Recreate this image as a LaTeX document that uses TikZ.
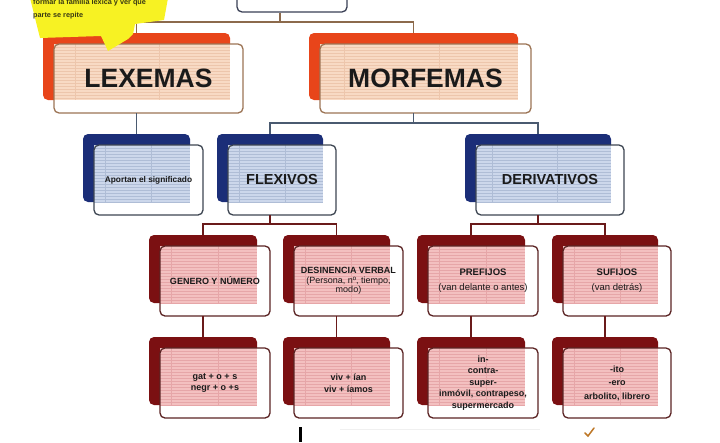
\documentclass[tikz,border=0pt]{standalone}
\usepackage{fontspec}
\setmainfont{Liberation Sans}
\definecolor{obk}{HTML}{E8451A}
\definecolor{ofl}{HTML}{F8DAC4}
\definecolor{oln}{HTML}{EDC6AC}
\definecolor{obd}{HTML}{9C7455}
\definecolor{bbk}{HTML}{1B2E78}
\definecolor{bfl}{HTML}{CCD7EB}
\definecolor{bln}{HTML}{AFBDD6}
\definecolor{bbd}{HTML}{3E4652}
\definecolor{rbk}{HTML}{7B1012}
\definecolor{rfl}{HTML}{F3C0C0}
\definecolor{rln}{HTML}{E6A6A8}
\definecolor{rbd}{HTML}{5B2424}
\definecolor{cbrown}{HTML}{8C6A4C}
\definecolor{cblue}{HTML}{4A5A70}
\definecolor{cred}{HTML}{6A1A1A}
\definecolor{ylw}{HTML}{F7F223}
\definecolor{ytx}{HTML}{3A3A12}
\definecolor{txt}{HTML}{1A1A1A}
\definecolor{topbd}{HTML}{3A4055}
\tikzset{
  cardbase/.style={inner sep=0pt, outer sep=0pt, rectangle, rounded corners=5pt},
  oback/.style={cardbase, fill=obk},
  bback/.style={cardbase, fill=bbk},
  rback/.style={cardbase, fill=rbk},
  ofront/.style={cardbase, fill=white},
  bfront/.style={cardbase, fill=white},
  rfront/.style={cardbase, fill=white},
  ofill/.style={fill=ofl},
  bfill/.style={fill=bfl},
  rfill/.style={fill=rfl},
  oline/.style={draw=oln, line width=0.35pt},
  bline/.style={draw=bln, line width=0.35pt},
  rline/.style={draw=rln, line width=0.35pt},
  oborder/.style={draw=obd, line width=1.3pt, rounded corners=5pt},
  bborder/.style={draw=bbd, line width=1.3pt, rounded corners=5pt},
  rborder/.style={draw=rbd, line width=1.3pt, rounded corners=5pt},
  otext/.style={text=txt, align=center, inner sep=0pt},
  btext/.style={text=txt, align=center, inner sep=0pt},
  rtext/.style={text=txt, align=center, inner sep=0pt},
  conn/.style={line width=1.2pt},
  brownconn/.style={conn, draw=cbrown},
  blueconn/.style={conn, draw=cblue},
  redconn/.style={conn, draw=cred},
  bigfont/.style={font=\fontsize{26.5}{30}\selectfont\bfseries},
  midfont/.style={font=\fontsize{14.5}{17}\selectfont\bfseries},
  smallbold/.style={font=\fontsize{9}{11.5}\selectfont\bfseries},
  apfont/.style={font=\fontsize{8.3}{10}\selectfont\bfseries},
  desfont/.style={font=\fontsize{9}{9.5}\selectfont},
  affont/.style={font=\fontsize{9.5}{11}\selectfont},
  sexfont/.style={font=\fontsize{9}{13.5}\selectfont\bfseries},
}
\newcommand{\card}[8]{%
  \pgfmathsetmacro{\bxm}{(#3+#5)/2}\pgfmathsetmacro{\bym}{(#4+#6)/2}%
  \pgfmathsetmacro{\bw}{#5-#3}\pgfmathsetmacro{\bh}{#6-#4}%
  \pgfmathsetmacro{\fxa}{#3+11}\pgfmathsetmacro{\fya}{#4+11}%
  \pgfmathsetmacro{\fxb}{#5+13}\pgfmathsetmacro{\fyb}{#6+13}%
  \pgfmathsetmacro{\fxm}{(\fxa+\fxb)/2}\pgfmathsetmacro{\fym}{(\fya+\fyb)/2}%
  \pgfmathsetmacro{\fw}{\fxb-\fxa}\pgfmathsetmacro{\fh}{\fyb-\fya}%
  \node[#2back, minimum width=\bw pt, minimum height=\bh pt] (#1-b) at (\bxm,\bym) {};
  \node[#2front, minimum width=\fw pt, minimum height=\fh pt] (#1-f) at (\fxm,\fym) {};
  \fill[#2fill] (\fxa,\fya) rectangle (#5,#6);
  \pgfmathtruncatemacro{\nl}{(#6-\fya)/3}%
  \foreach \k in {1,...,\nl}{\draw[#2line] (\fxa,{\fya+\k*3}) -- (#5,{\fya+\k*3});}
  \pgfmathsetmacro{\va}{\fxa+0.12*(#5-\fxa)}\pgfmathsetmacro{\vb}{\fxa+0.6*(#5-\fxa)}%
  \draw[#2line] (\va,\fya) -- (\va,#6);
  \draw[#2line] (\vb,\fya) -- (\vb,#6);
  \draw[#2border] (#1-f.north west) rectangle (#1-f.south east);
  \node[#2text, #7] (#1) at (#1-f.center) {#8};
}
\begin{document}
\begin{tikzpicture}[x=1pt,y=-1pt]
\useasboundingbox (0,0) rectangle (720,442);
\fill[white] (0,0) rectangle (720,442);
% top box (mostly cut off)
\node[draw=topbd, line width=1.3pt, fill=white, rounded corners=5pt, minimum width=110pt, minimum height=30pt, inner sep=0pt] (top) at (292,-3) {};
% cards
\card{lex}{o}{43}{33}{230}{100}{bigfont}{LEXEMAS}
\card{mor}{o}{309}{33}{518}{100}{bigfont}{MORFEMAS}
\card{ap}{b}{83}{134}{190}{202}{apfont}{Aportan el significado}
\card{flex}{b}{217}{134}{323}{202}{midfont}{FLEXIVOS}
\card{der}{b}{465}{134}{611}{202}{midfont}{DERIVATIVOS}
\card{gen}{r}{149}{235}{257}{303}{smallbold}{GENERO Y NÚMERO}
\card{des}{r}{283}{235}{390}{303}{desfont}{\textbf{DESINENCIA VERBAL}\\(Persona, nº, tiempo,\\modo)}
\card{pre}{r}{417}{235}{525}{303}{affont}{\textbf{PREFIJOS}\\[4pt](van delante o antes)}
\card{suf}{r}{552}{235}{658}{303}{affont}{\textbf{SUFIJOS}\\[4pt](van detrás)}
\card{gex}{r}{149}{337}{257}{405}{smallbold}{gat + o + s\\negr + o +s}
\card{dex}{r}{283}{337}{390}{405}{smallbold}{viv + ían\\viv + íamos}
\card{pex}{r}{417}{337}{525}{405}{smallbold}{in-\\contra-\\super-\\inmóvil, contrapeso,\\supermercado}
\card{sex}{r}{552}{337}{658}{405}{sexfont}{-ito\\-ero\\arbolito, librero}
% connectors
\coordinate (tj) at (280,22);
\draw[brownconn] (tj |- top.south) -- (tj);
\draw[brownconn] (lex-b.north) |- (tj) -| (mor-b.north);
\draw[blueconn] (lex-b.center |- lex-f.south) -- (ap-b.north);
\coordinate (mj) at (413.5,123);
\draw[blueconn] (mor-b.center |- mor-f.south) -- (mj);
\draw[blueconn] (flex-b.north) |- (mj) -| (der-b.north);
\coordinate (fj) at (270,224);
\draw[redconn] (flex-b.center |- flex-f.south) -- (fj);
\draw[redconn] (gen-b.north) |- (fj) -| (des-b.north);
\coordinate (dj) at (538,224);
\draw[redconn] (der-b.center |- der-f.south) -- (dj);
\draw[redconn] (pre-b.north) |- (dj) -| (suf-b.north);
\draw[redconn] (gen-b.center |- gen-f.south) -- (gex-b.north);
\draw[redconn] (des-b.center |- des-f.south) -- (dex-b.north);
\draw[redconn] (pre-b.center |- pre-f.south) -- (pex-b.north);
\draw[redconn] (suf-b.center |- suf-f.south) -- (sex-b.north);
% yellow callout
\fill[ylw] (30,-2) -- (168,-2) -- (164,20) -- (135,24) -- (133,34) -- (128,39) -- (108,51) -- (101,36) -- (40,38) -- cycle;
\node[anchor=west, text=ytx, inner sep=0pt, font=\fontsize{7.3}{8}\selectfont\bfseries] (y1) at (33,2.5) {formar la familia léxica y ver qué};
\node[anchor=west, text=ytx, inner sep=0pt, font=\fontsize{7.3}{8}\selectfont\bfseries] (y2) at (33,15.5) {parte se repite};
% bottom marks
\fill[black] (298.5,427) rectangle (302,442);
\draw[black!6, line width=1pt] (340,429) -- (540,429);
\draw[draw={rgb,255:red,190;green,120;blue,40}, line width=1.5pt, line cap=round] (585,433) -- (588,436) -- (594,428);
\end{tikzpicture}
\end{document}
